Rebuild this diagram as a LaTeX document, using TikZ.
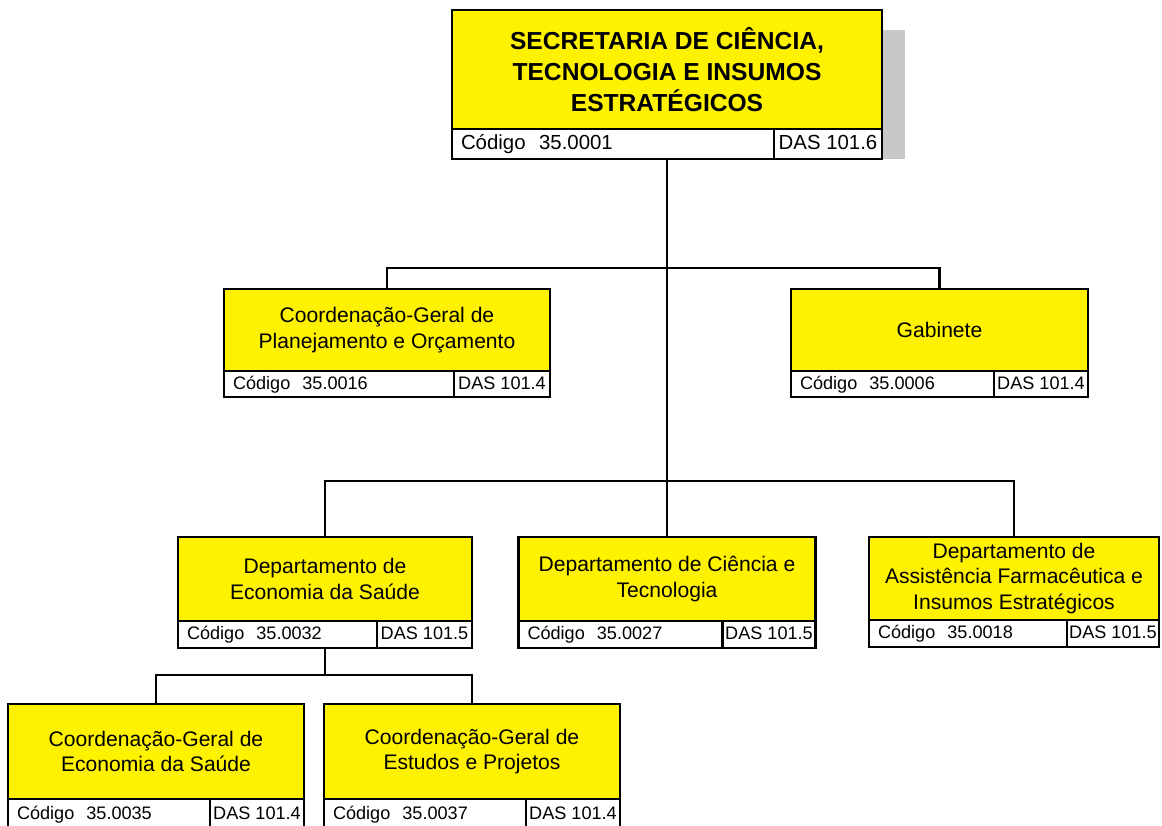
\documentclass[tikz,border=0pt]{standalone}
\usepackage{fontspec}
\setmainfont{Liberation Sans}
\usetikzlibrary{positioning,backgrounds}
\definecolor{unitcol}{HTML}{FFF200}
\definecolor{shadecol}{HTML}{C8C8CA}

\begin{document}
\begin{tikzpicture}[
  unit/.style={draw,fill=unitcol,line width=1.4pt,outer sep=0pt,anchor=north west,
               align=center,inner sep=2pt,font=\fontsize{12}{14.5}\selectfont},
  topunit/.style={unit,font=\fontsize{14}{17.5}\selectfont\bfseries},
  cod/.style={draw,fill=white,line width=1.4pt,outer sep=0pt,anchor=north west,
              inner xsep=0.18cm,inner ysep=0pt,align=left,
              text height=1.55ex,text depth=0.45ex,
              font=\fontsize{10.3}{12}\selectfont},
  das/.style={draw,fill=white,line width=1.4pt,outer sep=0pt,anchor=north west,
              inner sep=0pt,text height=1.55ex,text depth=0.45ex,
              font=\fontsize{10.3}{12}\selectfont},
  conn/.style={line width=1.5pt},
]
\useasboundingbox (0,0) rectangle (23.24,-16.52);
\clip (0,0) rectangle (23.24,-16.52);

% secretaria
\node[topunit,minimum width=8.6cm,minimum height=2.38cm] (sec) at (9.04,-0.2)
  {SECRETARIA DE CIÊNCIA,\\TECNOLOGIA E INSUMOS\\ESTRATÉGICOS};
\node[cod,text width=6.08cm,minimum height=0.6cm,font=\fontsize{11.6}{13}\selectfont]
  (seccod) at (sec.south west) {Código~~35.0001};
\node[das,minimum width=2.16cm,minimum height=0.6cm,font=\fontsize{11.6}{13}\selectfont]
  (secdas) at (seccod.north east) {DAS 101.6};

% second level
\node[unit,minimum width=6.52cm,minimum height=1.64cm] (cgpo) at (4.48,-5.78)
  {Coordenação-Geral de\\Planejamento e Orçamento};
\node[cod,text width=4.24cm,minimum height=0.52cm] (cgpocod) at (cgpo.south west)
  {Código~~35.0016};
\node[das,minimum width=1.92cm,minimum height=0.52cm] (cgpodas) at (cgpocod.north east)
  {DAS 101.4};

\node[unit,minimum width=5.94cm,minimum height=1.64cm] (gab) at (15.82,-5.78)
  {Gabinete};
\node[cod,text width=3.70cm,minimum height=0.52cm] (gabcod) at (gab.south west)
  {Código~~35.0006};
\node[das,minimum width=1.88cm,minimum height=0.52cm] (gabdas) at (gabcod.north east)
  {DAS 101.4};

% departamentos
\node[unit,minimum width=5.88cm,minimum height=1.68cm] (des) at (3.56,-10.74)
  {Departamento de\\Economia da Saúde};
\node[cod,text width=3.62cm,minimum height=0.54cm] (descod) at (des.south west)
  {Código~~35.0032};
\node[das,minimum width=1.90cm,minimum height=0.54cm] (desdas) at (descod.north east)
  {DAS 101.5};

\node[unit,minimum width=5.94cm,minimum height=1.68cm] (dct) at (10.37,-10.74)
  {Departamento de Ciência e\\Tecnologia};
\node[cod,text width=3.72cm,minimum height=0.54cm] (dctcod) at (dct.south west)
  {Código~~35.0027};
\node[das,minimum width=1.86cm,minimum height=0.54cm] (dctdas) at (dctcod.north east)
  {DAS 101.5};

\node[unit,minimum width=5.80cm,minimum height=1.66cm] (daf) at (17.38,-10.74)
  {Departamento de\\Assistência Farmacêutica e\\Insumos Estratégicos};
\node[cod,text width=3.60cm,minimum height=0.54cm] (dafcod) at (daf.south west)
  {Código~~35.0018};
\node[das,minimum width=1.84cm,minimum height=0.54cm] (dafdas) at (dafcod.north east)
  {DAS 101.5};

% coordenacoes
\node[unit,minimum width=5.92cm,minimum height=1.9cm] (cges) at (0.16,-14.08)
  {Coordenação-Geral de\\Economia da Saúde};
\node[cod,text width=3.68cm,minimum height=0.6cm] (cgescod) at (cges.south west)
  {Código~~35.0035};
\node[das,minimum width=1.88cm,minimum height=0.6cm] (cgesdas) at (cgescod.north east)
  {DAS 101.4};

\node[unit,minimum width=5.92cm,minimum height=1.9cm] (cgep) at (6.48,-14.08)
  {Coordenação-Geral de\\Estudos e Projetos};
\node[cod,text width=3.68cm,minimum height=0.6cm] (cgepcod) at (cgep.south west)
  {Código~~35.0037};
\node[das,minimum width=1.88cm,minimum height=0.6cm] (cgepdas) at (cgepcod.north east)
  {DAS 101.4};

\draw[conn] (seccod.south -| sec.south) -- (dct.north);
\draw[conn] (cgpo.north) -- ++(0,0.42) -| (gab.north);
\draw[conn] (des.north) -- ++(0,1.12) -| (daf.north);
\draw[conn] (descod.south -| des.south) -- ++(0,-0.54);
\draw[conn] (cges.north) -- ++(0,0.58) -| (cgep.north);

\begin{scope}[on background layer]
  \fill[shadecol] ([yshift=-0.4cm]sec.north east) rectangle ([xshift=0.46cm]secdas.south east);
\end{scope}
\end{tikzpicture}
\end{document}
